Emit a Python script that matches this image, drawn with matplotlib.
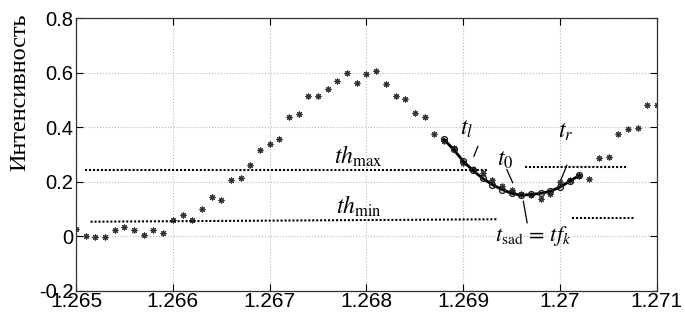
import numpy as np
import matplotlib.pyplot as plt

plt.rcParams['mathtext.fontset'] = 'stix'

# raw samples (asterisks)
t_raw = [1.2650, 1.2651, 1.2652, 1.2653, 1.2654, 1.2655, 1.2656, 1.2657, 1.2658, 1.2659,
         1.2660, 1.2661, 1.2662, 1.2663, 1.2664, 1.2665, 1.2666, 1.2667, 1.2668, 1.2669,
         1.2670, 1.2671, 1.2672, 1.2673, 1.2674, 1.2675, 1.2676, 1.2677, 1.2678, 1.2679,
         1.2680, 1.2681, 1.2682, 1.2683, 1.2684, 1.2685, 1.2686, 1.2687, 1.2688, 1.2689,
         1.2690, 1.2691, 1.2692, 1.2693, 1.2694, 1.2695, 1.2696, 1.2697, 1.2698, 1.2699,
         1.2700, 1.2701, 1.2702, 1.2703, 1.2704, 1.2705, 1.2706, 1.2707, 1.2708, 1.2709,
         1.2710]
i_raw = [0.028, 0.000, -0.004, -0.002, 0.021, 0.033, 0.021, 0.006, 0.022, 0.012,
         0.059, 0.076, 0.058, 0.100, 0.143, 0.131, 0.206, 0.212, 0.261, 0.316,
         0.339, 0.357, 0.438, 0.447, 0.513, 0.513, 0.541, 0.569, 0.598, 0.561,
         0.595, 0.606, 0.557, 0.514, 0.504, 0.450, 0.436, 0.376, 0.350, 0.325,
         0.270, 0.245, 0.230, 0.205, 0.185, 0.170, 0.155, 0.150, 0.135, 0.155,
         0.198, 0.205, 0.220, 0.211, 0.288, 0.291, 0.376, 0.392, 0.395, 0.480,
         0.480]

# smoothed segment (open circles)
t_fit = [1.2688, 1.2689, 1.2690, 1.2691, 1.2692, 1.2693, 1.2694, 1.2695,
         1.2696, 1.2697, 1.2698, 1.2699, 1.2700, 1.2701, 1.2702]
i_fit = [0.355, 0.318, 0.275, 0.241, 0.212, 0.189, 0.171, 0.157,
         0.150, 0.153, 0.157, 0.165, 0.180, 0.202, 0.223]

# thresholds: (t_start, t_end, level_start, level_end)
th_max_left = (1.26509, 1.26924, 0.242, 0.242)
th_max_right = (1.26964, 1.27070, 0.255, 0.255)
th_min_left = (1.26515, 1.26935, 0.053, 0.062)
th_min_right = (1.27012, 1.27076, 0.065, 0.065)

fig = plt.figure(figsize=(6.85, 3.17), dpi=100)
ax = fig.add_axes([0.111, 0.083, 0.848, 0.860])

ax.grid(True, linestyle=':', color='#b8b8b8', linewidth=0.8)
ax.set_axisbelow(True)

ax.plot(t_raw, i_raw, linestyle='none', marker=(8, 2, 0), markersize=4.2,
        markeredgewidth=0.8, color='#333333')

ax.plot(t_fit, i_fit, color='black', linewidth=2.0, marker='o', markersize=4.2,
        markerfacecolor='none', markeredgecolor='#222222', markeredgewidth=1.0)

for seg in (th_max_left, th_max_right, th_min_left, th_min_right):
    ax.plot(seg[:2], seg[2:], color='black', linewidth=1.5,
            linestyle=(0, (1, 0.9)))

txt = dict(fontsize=17, color='black')
ax.text(1.26792, 0.292, r'$th_{\rm max}$', ha='center', va='center', **txt)
ax.text(1.26792, 0.108, r'$th_{\rm min}$', ha='center', va='center', **txt)
ax.text(1.26903, 0.395, r'$t_l$', ha='center', va='center', **txt)
ax.text(1.26943, 0.283, r'$t_0$', ha='center', va='center', **txt)
ax.text(1.27006, 0.384, r'$t_r$', ha='center', va='center', **txt)
ax.text(1.269726, 0.0, r'$t_{\rm sad}\,=\,tf_k$', ha='center', va='center',
        fontsize=16, color='black')

# leader lines
for (x0, y0), (x1, y1) in [((1.26915, 0.329), (1.26911, 0.293)),
                           ((1.26945, 0.244), (1.26951, 0.196)),
                           ((1.27007, 0.260), (1.27001, 0.208)),
                           ((1.26962, 0.128), (1.26966, 0.049))]:
    ax.plot([x0, x1], [y0, y1], color='black', linewidth=0.9)

ax.set_xlim(1.265, 1.271)
ax.set_ylim(-0.2, 0.8)
ax.set_xticks([1.265, 1.266, 1.267, 1.268, 1.269, 1.27, 1.271])
ax.set_xticklabels(['1.265', '1.266', '1.267', '1.268', '1.269', '1.27', '1.271'])
ax.set_yticks([-0.2, 0, 0.2, 0.4, 0.6, 0.8])
ax.set_yticklabels(['-0.2', '0', '0.2', '0.4', '0.6', '0.8'])

ax.tick_params(direction='in', top=True, right=True, length=5, width=0.8, pad=2)
ax.tick_params(axis='x', labelsize=15, pad=1)
ax.tick_params(axis='y', labelsize=14.5)
for lab in ax.get_xticklabels() + ax.get_yticklabels():
    lab.set_fontfamily('Liberation Sans')
for spine in ax.spines.values():
    spine.set_linewidth(0.9)
    spine.set_color('#333333')

fig.text(0.029, 0.71, 'Интенсивность', rotation=90, ha='center', va='center',
         fontsize=17.5, fontfamily='Liberation Serif')

fig.savefig('out.png', dpi=100)
